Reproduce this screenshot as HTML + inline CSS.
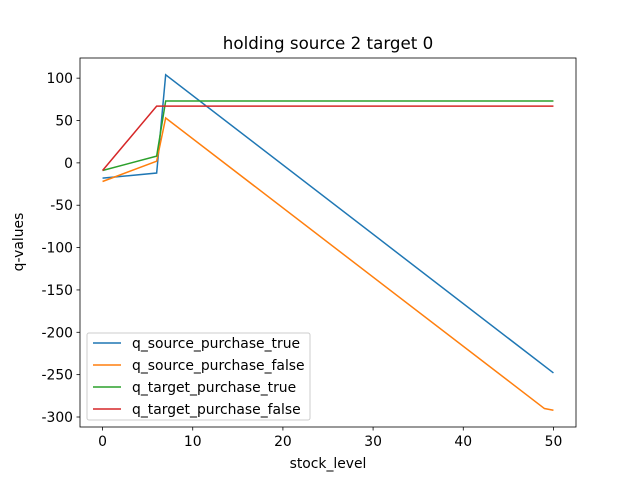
<!DOCTYPE html>
<html><head><meta charset="utf-8"><style>
body{margin:0;background:#fff;}
svg text{font-family:"DejaVu Sans","Liberation Sans",sans-serif;}
</style></head><body>
<svg id="chart" width="640" height="480" xmlns="http://www.w3.org/2000/svg">
<rect width="640" height="480" fill="#fff"/>
<text x="328" y="49" font-size="16.7" text-anchor="middle">holding source 2 target 0</text>
<g id="plot"></g>
<rect x="80" y="58" width="496" height="369" fill="none" stroke="#000" stroke-width="0.8"/>
<text x="328" y="468" font-size="13.9" text-anchor="middle">stock_level</text>
<text x="0" y="0" font-size="13.9" text-anchor="middle" transform="translate(23,242) rotate(-90)">q-values</text>
</svg>
<script>
const xTicks=[0,10,20,30,40,50];
const yTicks=[100,50,0,-50,-100,-150,-200,-250,-300];
const seriesNames=["q_source_purchase_true","q_source_purchase_false","q_target_purchase_true","q_target_purchase_false"];
const colors=["#1f77b4","#ff7f0e","#2ca02c","#d62728"];
const blueX=[0,6,7,50];
const blueY=[-18,-12,104,-248];
const orangeX=[0,6,7,49,50];
const orangeY=[-22,2,53,-290,-292];
const greenX=[0,6,7,50];
const greenY=[-9,8,73,73];
const redX=[0,6,7,50];
const redY=[-9,67,67,67];
const xMin=-2.5,xMax=52.5,yMin=-311.8,yMax=123.8;
const L=80,R=576,T=58,B=427;
const sx=v=>L+(v-xMin)/(xMax-xMin)*(R-L);
const sy=v=>B-(v-yMin)/(yMax-yMin)*(B-T);
const NS="http://www.w3.org/2000/svg";
const g=document.getElementById('plot');
function mk(t,a){const e=document.createElementNS(NS,t);for(const k in a)e.setAttribute(k,a[k]);g.appendChild(e);return e;}
xTicks.forEach(v=>{
 const l=mk('line',{x1:sx(v),x2:sx(v),y1:B,y2:B+3.5,stroke:'#000','stroke-width':0.8});
 
 
 const t=mk('text',{x:sx(v),y:B+19,'font-size':13.9,'text-anchor':'middle'});t.textContent=v;
 
 
});
yTicks.forEach(v=>{
 const l=mk('line',{x1:L-3.5,x2:L,y1:sy(v),y2:sy(v),stroke:'#000','stroke-width':0.8});
 
 
 const t=mk('text',{x:L-7,y:sy(v)+5,'font-size':13.9,'text-anchor':'end'});t.textContent=v;
 
 
});
const xs=[blueX,orangeX,greenX,redX],ys=[blueY,orangeY,greenY,redY];
xs.forEach((X,i)=>{
 const p=mk('polyline',{points:X.map((x,j)=>sx(x)+','+sy(ys[i][j])).join(' '),fill:'none',stroke:colors[i],'stroke-width':1.5});
 
 
});
const lg=mk('rect',{x:87,y:333,width:223,height:87,fill:'#fff','fill-opacity':0.8,stroke:'#ccc',rx:2});


seriesNames.forEach((n,i)=>{
 const y=343+i*22;
 const l=mk('line',{x1:93,x2:121,y1:y,y2:y,stroke:colors[i],'stroke-width':1.5});
 
 
 const t=mk('text',{x:132,y:y+5,'font-size':13.9});t.textContent=n;
 
 
});
</script>
</body></html>
